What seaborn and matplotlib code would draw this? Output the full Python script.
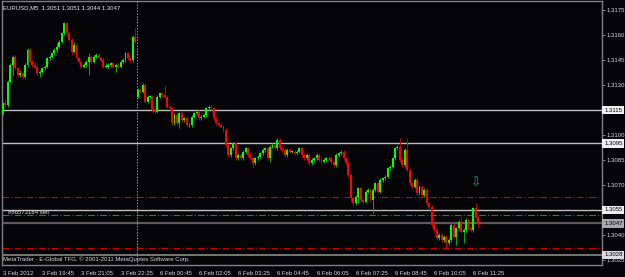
import numpy as np
import pandas as pd
import matplotlib
matplotlib.use("Agg")
import matplotlib.pyplot as plt
import seaborn as sns

# ---------------- data (prices in pips above 1.3000) ----------------
chart_title = "EURUSD,M5  1.3051 1.3051 1.3044 1.3047"
base_price = 1.3000
first_open = 113
monday_open = 123
monday_index = 55

closes = [
    119, 118, 132, 142, 147, 140, 136, 137, 135, 142,
    151, 144, 142, 141, 137, 138, 140, 141, 146, 147,
    149, 151, 153, 156, 161, 167, 161, 157, 150, 154,
    146, 144, 141, 142, 144, 147, 144, 147, 148, 146,
    145, 141, 141, 142, 143, 141, 142, 141, 144, 145,
    149, 146, 145, 159, 156,
    127, 126, 130, 120, 123, 123, 115, 114, 123, 125,
    124, 123, 117, 116, 107, 112, 107, 113, 109, 110,
    106, 106, 111, 113, 114, 110, 111, 112, 116, 117,
    116, 110, 107, 106, 105, 103, 94, 88, 92, 95,
    86, 88, 86, 90, 92, 88, 86, 83, 86, 87,
    89, 91, 92, 86, 93, 94, 92, 97, 92, 91,
    88, 91, 90, 90, 89, 90, 92, 88, 86, 88,
    83, 85, 86, 88, 85, 84, 85, 86, 86, 84,
    82, 88, 89, 90, 86, 83, 76, 62, 59, 63,
    68, 61, 60, 66, 67, 61, 67, 71, 66, 73,
    74, 75, 80, 81, 86, 92, 93, 85, 82, 91,
    79, 71, 69, 73, 65, 69, 64, 67, 59, 57,
    46, 43, 38, 40, 37, 39, 35, 37, 46, 39,
    44, 48, 42, 43, 49, 44, 43, 56, 51, 47,
]

upper_wick = [
    1, 2, 1, 1, 1, 1, 1, 2, 1, 1,
    1, 1, 1, 2, 1, 1, 1, 1, 1, 1,
    1, 1, 2, 1, 1, 1, 1, 1, 1, 2,
    1, 1, 1, 1, 1, 2, 1, 1, 1, 1,
    1, 1, 2, 1, 1, 1, 1, 1, 1, 1,
    1, 1, 1, 1, 5,
    1, 1, 1, 1, 1, 1, 1, 1, 1, 1,
    1, 6, 1, 1, 1, 1, 2, 1, 1, 1,
    1, 1, 1, 1, 1, 1, 1, 1, 1, 1,
    1, 1, 1, 1, 1, 1, 1, 1, 1, 1,
    1, 1, 1, 1, 1, 1, 1, 1, 1, 1,
    1, 1, 1, 1, 1, 1, 1, 1, 1, 1,
    1, 1, 1, 1, 1, 1, 1, 1, 1, 1,
    1, 1, 1, 1, 1, 1, 1, 1, 1, 1,
    1, 1, 1, 1, 1, 1, 1, 1, 1, 1,
    1, 1, 1, 1, 1, 1, 1, 1, 1, 1,
    1, 1, 1, 1, 1, 1, 1, 5, 1, 1,
    7, 1, 1, 1, 1, 1, 1, 1, 1, 1,
    1, 1, 1, 1, 1, 1, 1, 1, 1, 1,
    1, 1, 3, 1, 1, 1, 1, 1, 3, 0,
]

lower_wick = [
    1, 1, 1, 1, 6, 1, 1, 1, 1, 1,
    1, 1, 1, 1, 1, 2, 1, 1, 1, 1,
    1, 1, 1, 1, 1, 1, 1, 1, 2, 1,
    1, 1, 1, 1, 1, 8, 1, 1, 1, 1,
    1, 1, 1, 1, 1, 1, 3, 1, 1, 1,
    1, 1, 1, 1, 1,
    1, 1, 1, 1, 1, 1, 1, 1, 1, 1,
    1, 1, 1, 1, 1, 1, 1, 3, 1, 1,
    1, 1, 1, 1, 1, 1, 1, 1, 1, 1,
    1, 1, 1, 1, 1, 1, 1, 1, 1, 1,
    1, 1, 1, 1, 1, 1, 1, 3, 1, 1,
    1, 1, 1, 1, 2, 1, 1, 1, 1, 1,
    1, 1, 1, 1, 1, 1, 1, 1, 1, 1,
    1, 1, 1, 1, 1, 1, 1, 1, 1, 1,
    1, 1, 1, 1, 1, 1, 1, 2, 1, 1,
    4, 1, 1, 1, 1, 1, 8, 1, 1, 1,
    1, 1, 1, 1, 1, 1, 1, 1, 1, 1,
    1, 1, 1, 1, 1, 1, 1, 1, 1, 1,
    1, 1, 1, 1, 1, 1, 3, 1, 1, 1,
    5, 1, 1, 7, 1, 1, 1, 1, 1, 3,
]

time_labels = ["3 Feb 2012", "3 Feb 19:45", "3 Feb 21:05", "3 Feb 22:25",
               "6 Feb 00:45", "6 Feb 02:05", "6 Feb 03:25", "6 Feb 04:45",
               "6 Feb 06:05", "6 Feb 07:25", "6 Feb 08:45", "6 Feb 10:05",
               "6 Feb 11:25"]
bars_per_label = 16
price_ticks = [1.3025, 1.3040, 1.3055, 1.3070, 1.3085, 1.3100,
               1.3115, 1.3130, 1.3145, 1.3160, 1.3175]

silver_levels = [1.3115, 1.3095, 1.3055]
bid_level = 1.3047
support_level = 1.3028
red_levels = [1.3063, 1.3032]
order_level = 1.3052
order_text = "#86573184 sell"
footer_text = "MetaTrader - E-Global TFG, \u00a9 2001-2011 MetaQuotes Software Corp."
arrow_bar = 193
arrow_price = 1.3071
y_limits = (1.30220, 1.31804)
x_limits = (-0.41, 244.5)

# ---------------- build OHLC table ----------------
opens = [first_open] + closes[:-1]
opens[monday_index] = monday_open
df = pd.DataFrame({"bar": np.arange(len(closes)), "open": opens, "close": closes,
                   "up": upper_wick, "dn": lower_wick})
df["high"] = df[["open", "close"]].max(axis=1) + df["up"]
df["low"] = df[["open", "close"]].min(axis=1) - df["dn"]
for c in ["open", "close", "high", "low"]:
    df[c] = base_price + df[c] / 10000.0
df["bull"] = df["close"] >= df["open"]
df["body_lo"] = df[["open", "close"]].min(axis=1)
df["body_h"] = (df["close"] - df["open"]).abs().clip(lower=0.00003)

# ---------------- style ----------------
BG = "#040306"
sns.set_theme(style="dark", rc={"axes.facecolor": BG, "figure.facecolor": BG,
                                "axes.edgecolor": "#808080", "axes.grid": False})
plt.rcParams["font.family"] = ["Liberation Sans", "DejaVu Sans"]

fig = plt.figure(figsize=(6.25, 2.77), dpi=100)
ax = fig.add_axes([2 / 625, 12 / 277, 600 / 625, 264 / 277])
ax.set_facecolor(BG)
ax.grid(False)

# levels
for lv in silver_levels:
    ax.axhline(lv, color="#c0c0c0", lw=1.0, zorder=1)
ax.axhline(bid_level, color="#5a5a5a", lw=1.6, zorder=1)
ax.axhline(support_level, color="#8a8a8a", lw=1.2, zorder=1)
for lv in red_levels:
    ax.axhline(lv, color="#d00000", lw=0.8, ls=(0, (6, 2, 1, 2)), zorder=1)
ax.axhline(order_level, color="#00a000", lw=0.8, ls=(0, (6, 2, 1, 2)), zorder=1)

# period separator
ax.axvline(monday_index - 0.5, color="#9a9a9a", lw=0.7, ls=(0, (1.5, 1.5)), zorder=1)

# candles
bull = df[df["bull"]]
bear = df[~df["bull"]]
ax.vlines(bull["bar"], bull["low"], bull["high"], colors="#00b000", lw=0.7, zorder=2)
ax.vlines(bear["bar"], bear["low"], bear["high"], colors="#c00000", lw=0.7, zorder=2)
ax.bar(bull["bar"], bull["body_h"], bottom=bull["body_lo"], width=0.8,
       color="#00ff00", linewidth=0, zorder=3)
ax.bar(bear["bar"], bear["body_h"], bottom=bear["body_lo"], width=0.8,
       color="#ff0000", linewidth=0, zorder=3)

ax.set_xlim(*x_limits)
ax.set_ylim(*y_limits)

# boxed price labels (they cover the tick labels at the same level)
box_specs = [(1.3115, "#f0f0f0"), (1.3095, "#f0f0f0"), (1.3055, "#f0f0f0"),
             (bid_level, "#a8a8a8"), (support_level, "#dcdcdc")]
boxed = {round(lv, 4) for lv, _ in box_specs}

# axes ticks
ax.set_xticks(np.arange(len(time_labels)) * bars_per_label)
ax.set_xticklabels(time_labels)
for lab in ax.get_xticklabels():
    lab.set_horizontalalignment("left")
ax.set_yticks(price_ticks)
ax.set_yticklabels(["" if round(p, 4) in boxed else f"{p:.4f}" for p in price_ticks])
ax.yaxis.tick_right()
ax.tick_params(axis="both", colors="#a0a0a0", labelcolor="#d8d8d8", labelsize=4.3,
               length=2.5, width=0.6, pad=1, direction="out")
ax.tick_params(axis="x", pad=1.5)
for s in ax.spines.values():
    s.set_color("#808080")
    s.set_linewidth(1.0)

ytr = ax.get_yaxis_transform()
for lv, fc in box_specs:
    ax.text(1.0035, lv, f"{lv:.4f}", transform=ytr, ha="left", va="center",
            fontsize=4.3, color="#000000", clip_on=False, zorder=5,
            bbox=dict(boxstyle="square,pad=0.3", fc=fc, ec="none"))

# texts
ax.text(0.002, 0.976, chart_title, transform=ax.transAxes, ha="left", va="center",
        fontsize=4.3, color="#e8e8e8")
ax.text(5.5 / 600, order_level + 0.00003, order_text, transform=ytr, ha="left",
        va="bottom", fontsize=4.3, color="#e0e0e0", zorder=4)
ax.text(0.002, 0.021, footer_text, transform=ax.transAxes, ha="left", va="center",
        fontsize=4.3, color="#d8d8d8", zorder=4)
ax.text(arrow_bar, arrow_price, "\u21e9", ha="center", va="center", fontsize=9,
        color="#1aa0a8", family=["DejaVu Sans"], zorder=4)

fig.savefig("out.png", dpi=100, facecolor=BG)
